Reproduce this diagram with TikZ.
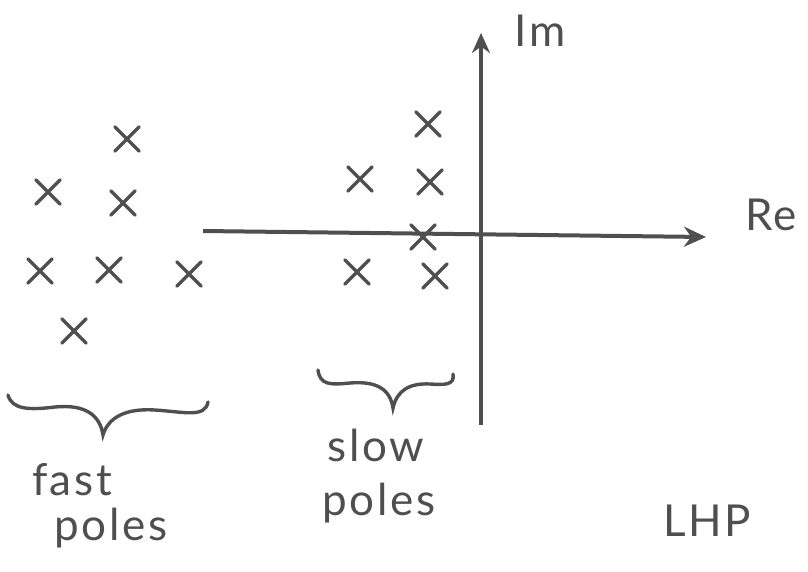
\documentclass[tikz,border=0pt]{standalone}
\usepackage{fontspec}
\newfontfamily\hand[LetterSpace=6]{Lato}
\usetikzlibrary{shapes.misc,arrows.meta}
\definecolor{pencil}{HTML}{4F4F4F}
\tikzset{
  pole/.style={cross out,draw=pencil,line width=3.5pt,minimum size=21pt,inner sep=0pt,line cap=round},
  axis/.style={draw=pencil,line width=4pt,-{Stealth[length=22pt,width=20pt]}},
  bracecurve/.style={draw=pencil,line width=3.4pt,line cap=round},
  lbl/.style={text=pencil,font=\hand\fontsize{44}{46}\selectfont,inner sep=0pt}
}
\begin{document}
\begin{tikzpicture}[x=1pt,y=-1pt]
\useasboundingbox (0,0) rectangle (808,571);
% axes
\coordinate (reL) at (203,231);
\coordinate (reR) at (706,237);
\coordinate (imB) at (481,425);
\coordinate (imT) at (481,33);
\draw[axis] (reL) -- (reR);
\draw[axis,line width=3.2pt,-{Stealth[length=20pt,width=18pt]}] (imB) -- (imT);
\node[lbl] (im) at (540,31) {Im};
\node[lbl] (re) at (771,215) {Re};
\node[lbl] (lhp) at (707,521) {LHP};
% fast poles
\node[pole] (f1) at (127,139) {};
\node[pole] (f2) at (48,192) {};
\node[pole] (f3) at (123,203) {};
\node[pole] (f4) at (40,271) {};
\node[pole] (f5) at (109,270) {};
\node[pole] (f6) at (189,274) {};
\node[pole] (f7) at (74,331) {};
% slow poles
\node[pole] (s1) at (428,124) {};
\node[pole] (s2) at (360,179) {};
\node[pole] (s3) at (430,182) {};
\node[pole] (s4) at (423,237) {};
\node[pole] (s5) at (357,272) {};
\node[pole] (s6) at (435,276) {};
% braces
\draw[bracecurve] (8,395) .. controls (12,410) and (30,410) .. (55,407)
  .. controls (85,404) and (100,415) .. (103,435)
  .. controls (108,418) and (125,408) .. (155,410)
  .. controls (185,412) and (205,418) .. (208,402);
\draw[bracecurve] (318,370) .. controls (320,385) and (330,385) .. (350,383)
  .. controls (375,381) and (390,388) .. (393,408)
  .. controls (397,390) and (410,383) .. (430,384)
  .. controls (445,385) and (455,385) .. (453,374);
% labels
\node[lbl] (fast) at (72,480) {fast};
\node[lbl] (fastp) at (111,528) {poles};
\node[lbl] (slow) at (376,445) {slow};
\node[lbl] (slowp) at (379,503) {poles};
\end{tikzpicture}
\end{document}
